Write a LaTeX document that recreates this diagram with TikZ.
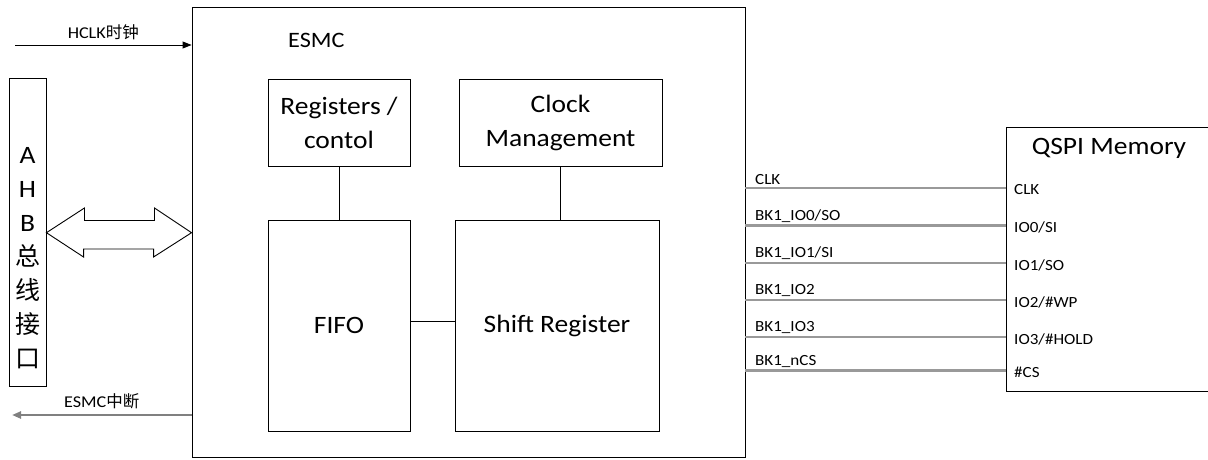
\documentclass[tikz,border=0pt]{standalone}
\usepackage{fontspec}
\setmainfont{Carlito}[FakeStretch=1.1]
\newfontfamily\cjk{Noto Sans CJK SC}
\usetikzlibrary{arrows.meta}
\newcommand\sla{/}
\tikzset{
  blk/.style={draw=black, line width=0.9pt, inner sep=0pt, align=center},
  sig/.style={draw=gray!80, line width=2.6pt},
  lbl/.style={inner sep=0pt, font=\fontsize{15.5}{17}\selectfont},
  big/.style={font=\fontsize{25}{34}\selectfont},
}
\begin{document}
\begin{tikzpicture}[x=1pt,y=-1pt]
\useasboundingbox (0,0) rectangle (1208,460);
% boxes
\node[blk, minimum width=553, minimum height=450] (esmc) at (468.5,232) {};
\node[anchor=west, inner sep=0pt, font=\fontsize{22}{24}\selectfont] (esmclbl) at (288,40) {ESMC};
\node[blk, big, minimum width=142, minimum height=87] (reg) at (339,122.5) {Registers /\\contol};
\node[blk, big, minimum width=203, minimum height=87] (clk) at (560.5,122.5) {Clock\\Management};
\node[blk, big, minimum width=142, minimum height=211] (fifo) at (339,325.5) {FIFO};
\node[blk, big, minimum width=204, minimum height=211] (shift) at (557,325.5) {Shift Register};
\draw[line width=0.9pt] (reg.south) -- (fifo.north);
\draw[line width=0.9pt] (clk.south) -- (clk.south |- shift.north);
\draw[line width=0.9pt] (fifo.east |- 0,321) -- (shift.west |- 0,321);
% AHB
\node[blk, minimum width=37, minimum height=308] (ahb) at (27.5,232) {};
\node[inner sep=0pt, align=center, anchor=north, font=\fontsize{25}{34}\selectfont] (ahbtxt) at (27.5,147)
  {A\\H\\B\\{\cjk 总}\\{\cjk 线}\\{\cjk 接}\\{\cjk 口}};
% HCLK arrow
\coordinate (hclkin) at (15,45);
\draw[line width=0.9pt, -{Triangle[length=9pt,width=7pt]}] (hclkin) -- (esmc.west |- hclkin) node[midway, above=5pt, lbl, font=\fontsize{16.5}{18}\selectfont] (hclklbl) {HCLK{\cjk 时钟}};
% interrupt arrow
\coordinate (intout) at (12,415);
\draw[draw=gray, line width=2.2pt, -{Triangle[length=9pt,width=7pt]}] (esmc.west |- intout) -- (intout) node[midway, above=5pt, lbl, text=black, font=\fontsize{16.5}{18}\selectfont] (intlbl) {ESMC{\cjk 中断}};
% double arrow
\coordinate (dl) at (ahb.east |- 0,232.7);
\coordinate (dr) at (esmc.west |- 0,232.7);
\draw[line width=0.9pt, fill=white] (dl) -- ++(38,-24.7) -- ++(0,12.5) -- ++(70,0) -- ++(0,-12.5) -- (dr)
  -- ++(-38,24.3) -- ++(0,-8) -- ++(-70,0) -- ++(0,8) -- cycle;
% QSPI
\node[blk, minimum width=210, minimum height=264] (qspi) at (1111,259) {};
\node[inner sep=0pt, font=\fontsize{25}{28}\selectfont] (qspit) at (1109,148) {QSPI Memory};
% signals
\foreach \y/\a/\b [count=\i] in {188/CLK/CLK, 225.7/BK1\_IO0\sla SO/IO0\sla SI, 263/BK1\_IO1\sla SI/IO1\sla SO, 300/BK1\_IO2/IO2\sla\#WP, 337/BK1\_IO3/IO3\sla\#HOLD, 370.7/BK1\_nCS/\#CS}{
  \draw[sig] (esmc.east |- 0,\y) -- (qspi.west |- 0,\y);
  \node[lbl, anchor=south west] (sl\i) at (755,\y-3) {\a};
  \node[lbl, anchor=west] (sr\i) at (1014,\y+2) {\b};
}
\end{tikzpicture}
\end{document}
